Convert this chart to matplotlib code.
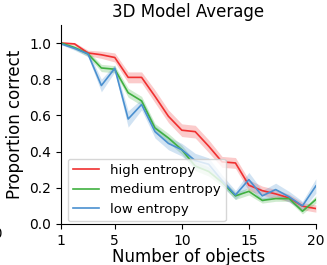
import numpy as np
import matplotlib.pyplot as plt

# number of objects shown
n_objects = np.arange(1, 21)

high = [1.0, 0.995, 0.945, 0.935, 0.92, 0.81, 0.81, 0.705, 0.595, 0.518,
        0.51, 0.43, 0.343, 0.337, 0.214, 0.184, 0.166, 0.144, 0.098, 0.085]
high_err = [0.005, 0.008, 0.015, 0.02, 0.025, 0.03, 0.03, 0.035, 0.035, 0.035,
            0.035, 0.035, 0.03, 0.03, 0.03, 0.025, 0.025, 0.02, 0.02, 0.02]

medium = [1.0, 0.975, 0.94, 0.862, 0.855, 0.725, 0.68, 0.53, 0.475, 0.41,
          0.32, 0.29, 0.23, 0.155, 0.18, 0.13, 0.14, 0.14, 0.07, 0.135]
medium_err = [0.005, 0.01, 0.015, 0.02, 0.02, 0.025, 0.025, 0.025, 0.025, 0.025,
              0.025, 0.025, 0.02, 0.02, 0.02, 0.015, 0.015, 0.015, 0.015, 0.02]

low = [0.995, 0.97, 0.94, 0.765, 0.86, 0.58, 0.66, 0.51, 0.445, 0.41,
       0.35, 0.33, 0.24, 0.16, 0.245, 0.155, 0.19, 0.15, 0.1, 0.21]
low_err = [0.005, 0.01, 0.015, 0.035, 0.02, 0.045, 0.03, 0.035, 0.035, 0.035,
           0.04, 0.035, 0.03, 0.025, 0.04, 0.03, 0.035, 0.03, 0.025, 0.04]

labels = ['high entropy', 'medium entropy', 'low entropy']
colors = ['#f03030', '#40b040', '#4a90d0']

fig = plt.figure(figsize=(3.27, 2.65), dpi=100)
ax = fig.add_axes([0.187, 0.155, 0.779, 0.751])

for y, e, lab, c in zip([high, medium, low], [high_err, medium_err, low_err], labels, colors):
    y = np.array(y)
    e = np.array(e)
    ax.plot(n_objects, y, color=c, lw=1.2, label=lab)
    ax.fill_between(n_objects, y - e, y + e, color=c, alpha=0.25, lw=0)

ax.set_xlim(1, 20)
ax.set_ylim(0, 1.1)
ax.set_xticks([1, 5, 10, 15, 20])
ax.set_yticks([0.0, 0.2, 0.4, 0.6, 0.8, 1.0])
ax.tick_params(labelsize=10)
ax.spines['top'].set_visible(False)
ax.spines['right'].set_visible(False)
ax.set_title('3D Model Average', fontsize=12)
ax.set_xlabel('Number of objects', fontsize=12, labelpad=0)
ax.set_ylabel('Proportion correct', fontsize=12)
ax.legend(loc='lower left', fontsize=9.5, bbox_to_anchor=(0, -0.02))

# clipped tick label from neighbouring panel
fig.text(-0.045, 0.1, '20', fontsize=10)

fig.savefig('out.png', dpi=100)
